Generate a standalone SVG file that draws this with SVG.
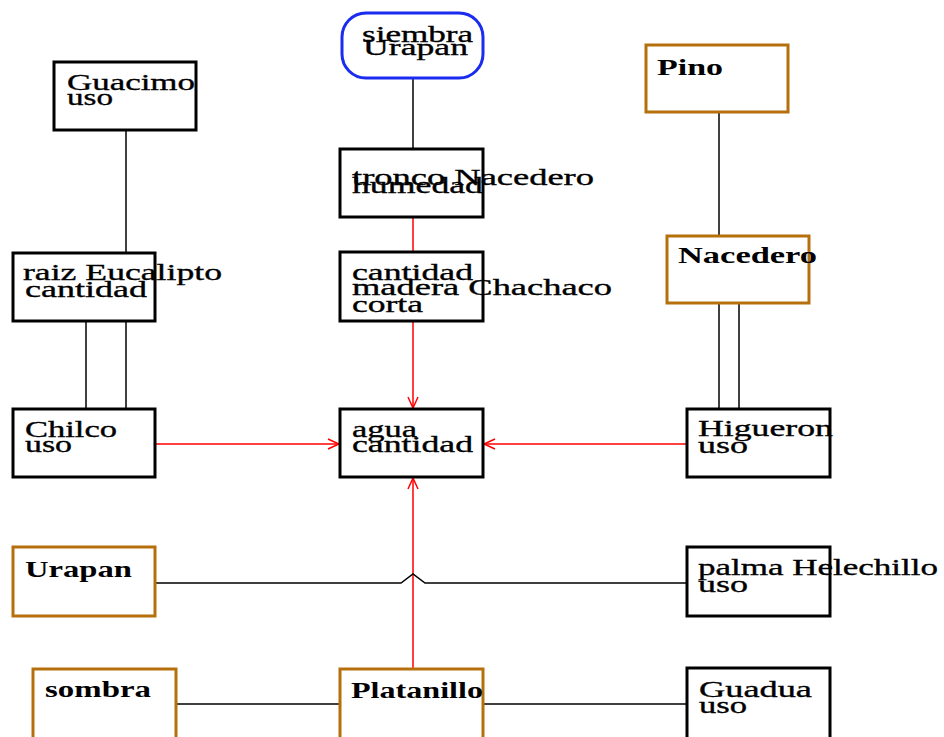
<svg xmlns="http://www.w3.org/2000/svg" width="944" height="737" viewBox="0 0 944 737">
  <style>
    .box { fill: #ffffff; stroke: #000000; stroke-width: 3; }
    .brown { fill: #ffffff; stroke: #b5700c; stroke-width: 3; }
    .blue { fill: #ffffff; stroke: #1a2cf0; stroke-width: 3; }
    .t { font-family: "Liberation Serif", "Times New Roman", serif; font-size: 24px; fill: #000000; stroke: #000000; stroke-width: 0.35; }
    .b { font-weight: bold; stroke-width: 0; }
    .ln { fill: none; stroke: #000000; stroke-width: 1.5; }
    .rd { fill: none; stroke: #ff0000; stroke-width: 1.5; }
  </style>
  <defs>
    <marker id="openArrow" markerWidth="14" markerHeight="12" refX="12" refY="6" orient="auto" markerUnits="userSpaceOnUse">
      <path d="M1,1 L12,6 L1,11" fill="none" stroke="#ff0000" stroke-width="1.5"/>
    </marker>
  </defs>
  <rect width="944" height="737" fill="#ffffff"/>

  <!-- connectors -->
  <g id="connectors">
    <line class="ln" x1="126" y1="130" x2="126" y2="253"/>
    <line class="ln" x1="86" y1="321" x2="86" y2="409"/>
    <line class="ln" x1="126" y1="321" x2="126" y2="409"/>
    <line class="ln" x1="413" y1="78" x2="413" y2="149"/>
    <line class="rd" x1="413" y1="217" x2="413" y2="252"/>
    <line class="rd" x1="413" y1="321" x2="413" y2="408" marker-end="url(#openArrow)"/>
    <line class="ln" x1="719" y1="112" x2="719" y2="236"/>
    <line class="ln" x1="719" y1="303" x2="719" y2="409"/>
    <line class="ln" x1="739" y1="303" x2="739" y2="409"/>
    <line class="rd" x1="155" y1="444" x2="339" y2="444" marker-end="url(#openArrow)"/>
    <line class="rd" x1="687" y1="444" x2="484" y2="444" marker-end="url(#openArrow)"/>
    <line class="rd" x1="413" y1="669" x2="413" y2="478" marker-end="url(#openArrow)"/>
    <path class="ln" d="M155,583 H401 L413,574 L425,583 H687"/>
    <line class="ln" x1="176" y1="704" x2="340" y2="704"/>
    <line class="ln" x1="483" y1="704" x2="687" y2="704"/>
  </g>

  <!-- nodes -->
  <g id="guacimo">
    <rect class="box" x="54" y="62" width="142" height="68"/>
    <text class="t" x="67" y="90" textLength="128" lengthAdjust="spacingAndGlyphs">Guacimo</text>
    <text class="t" x="67" y="105" textLength="46" lengthAdjust="spacingAndGlyphs">uso</text>
  </g>
  <g id="raiz-eucalipto">
    <rect class="box" x="13" y="253" width="142" height="68"/>
    <text class="t" x="23" y="280" textLength="199" lengthAdjust="spacingAndGlyphs">raiz Eucalipto</text>
    <text class="t" x="25" y="297" textLength="122" lengthAdjust="spacingAndGlyphs">cantidad</text>
  </g>
  <g id="chilco">
    <rect class="box" x="13" y="409" width="142" height="68"/>
    <text class="t" x="25" y="437" textLength="92" lengthAdjust="spacingAndGlyphs">Chilco</text>
    <text class="t" x="25" y="452" textLength="47" lengthAdjust="spacingAndGlyphs">uso</text>
  </g>
  <g id="siembra-urapan">
    <rect class="blue" x="342" y="13" width="141" height="65" rx="24" ry="24"/>
    <text class="t" x="362" y="42" textLength="111" lengthAdjust="spacingAndGlyphs">siembra</text>
    <text class="t" x="363" y="55" textLength="105" lengthAdjust="spacingAndGlyphs">Urapan</text>
  </g>
  <g id="tronco-nacedero">
    <text class="t" x="352" y="185" textLength="242" lengthAdjust="spacingAndGlyphs">tronco Nacedero</text>
    <text class="t" x="352" y="193" textLength="131" lengthAdjust="spacingAndGlyphs">humedad</text>
    <!-- frame drawn over the text so its edge cuts the last letter -->
    <rect class="box" x="340" y="149" width="143" height="68" style="fill:none"/>
  </g>
  <g id="madera-chachaco">
    <rect class="box" x="340" y="252" width="143" height="69"/>
    <text class="t" x="352" y="280" textLength="121" lengthAdjust="spacingAndGlyphs">cantidad</text>
    <text class="t" x="352" y="295" textLength="260" lengthAdjust="spacingAndGlyphs">madera Chachaco</text>
    <text class="t" x="352" y="312" textLength="71" lengthAdjust="spacingAndGlyphs">corta</text>
  </g>
  <g id="agua">
    <rect class="box" x="340" y="409" width="143" height="68"/>
    <text class="t" x="352" y="437" textLength="65" lengthAdjust="spacingAndGlyphs">agua</text>
    <text class="t" x="352" y="452" textLength="121" lengthAdjust="spacingAndGlyphs">cantidad</text>
  </g>
  <g id="pino">
    <rect class="brown" x="646" y="45" width="142" height="67"/>
    <text class="t b" x="657" y="75" textLength="66" lengthAdjust="spacingAndGlyphs">Pino</text>
  </g>
  <g id="nacedero">
    <rect class="brown" x="667" y="236" width="142" height="67"/>
    <text class="t b" x="678" y="263" textLength="139" lengthAdjust="spacingAndGlyphs">Nacedero</text>
  </g>
  <g id="higueron">
    <rect class="box" x="687" y="409" width="143" height="68"/>
    <text class="t" x="698" y="436" textLength="135" lengthAdjust="spacingAndGlyphs">Higueron</text>
    <text class="t" x="698" y="453" textLength="50" lengthAdjust="spacingAndGlyphs">uso</text>
  </g>
  <g id="urapan">
    <rect class="brown" x="13" y="547" width="142" height="69"/>
    <text class="t b" x="25" y="577" textLength="107" lengthAdjust="spacingAndGlyphs">Urapan</text>
  </g>
  <g id="palma-helechillo">
    <rect class="box" x="687" y="547" width="143" height="69"/>
    <text class="t" x="698" y="575" textLength="240" lengthAdjust="spacingAndGlyphs">palma Helechillo</text>
    <text class="t" x="698" y="592" textLength="50" lengthAdjust="spacingAndGlyphs">uso</text>
  </g>
  <g id="sombra">
    <rect class="brown" x="33" y="669" width="143" height="72"/>
    <text class="t b" x="45" y="697" textLength="106" lengthAdjust="spacingAndGlyphs">sombra</text>
  </g>
  <g id="platanillo">
    <rect class="brown" x="340" y="669" width="143" height="72"/>
    <text class="t b" x="351" y="698" textLength="132" lengthAdjust="spacingAndGlyphs">Platanillo</text>
  </g>
  <g id="guadua">
    <rect class="box" x="687" y="668" width="143" height="73"/>
    <text class="t" x="699" y="697" textLength="113" lengthAdjust="spacingAndGlyphs">Guadua</text>
    <text class="t" x="699" y="713" textLength="48" lengthAdjust="spacingAndGlyphs">uso</text>
  </g>
</svg>
